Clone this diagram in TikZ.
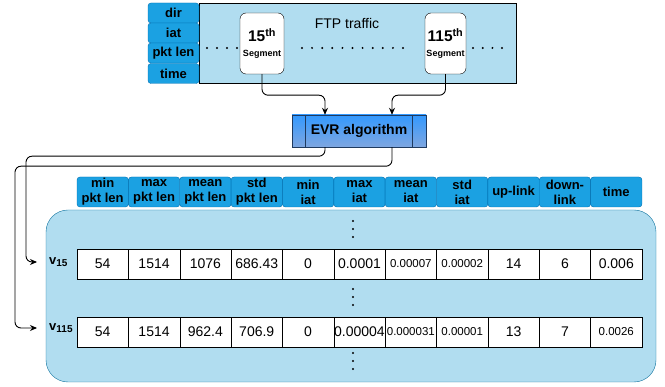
\documentclass[tikz,border=0pt]{standalone}
\usepackage{fontspec}
\setmainfont{Liberation Sans}
\usetikzlibrary{arrows.meta}

\definecolor{paleblue}{HTML}{B1DDF0}
\definecolor{paleline}{HTML}{10739E}
\definecolor{hdrblue}{HTML}{1BA1E2}
\definecolor{hdrline}{HTML}{006EAF}
\definecolor{evrtop}{HTML}{3399FF}
\definecolor{evrbot}{HTML}{7EA6E0}
\definecolor{evrline}{HTML}{1F3A5F}

\newcommand{\fsz}[1]{\fontsize{#1}{#1}\selectfont}
\newcommand{\sm}[1]{{\fontsize{11.5}{12}\selectfont #1}}
\newcommand{\vsub}[1]{{\fsz{13}v}\raisebox{-2.5pt}{\fsz{10}#1}}

\begin{document}
\begin{tikzpicture}[x=1pt, y=-1pt,
  field/.style = {draw=hdrline, fill=hdrblue, rounded corners=3pt,
    minimum width=51pt, minimum height=20pt, inner sep=0pt,
    align=center, font=\fontsize{13}{15}\selectfont\bfseries},
  hdr/.style = {field, minimum width=51.36pt, minimum height=30pt},
  cell/.style = {draw, fill=white, minimum width=51.36pt,
    minimum height=30pt, inner sep=0pt, font=\fsz{14}},
  segbox/.style = {draw, fill=white, rounded corners=6pt,
    minimum height=61pt, inner sep=0pt, align=center},
  vlabel/.style = {anchor=west, inner sep=0pt, font=\bfseries},
  conn/.style = {-{Stealth[length=7pt,width=6pt]}, line width=0.9pt,
    rounded corners=6pt}]
  \useasboundingbox (0,0) rectangle (665,387);

  % captured traffic
  \node[draw, fill=paleblue, minimum width=317pt, minimum height=80pt,
    inner sep=0pt] (ftp) at (357.5,43) {};
  \node[font=\fsz{14}] (ftptxt) at (347,23) {FTP traffic};
  \node[field] (dir) at (173.5,13) {dir};
  \node[field] (iat) at (173.5,33) {iat};
  \node[field] (len) at (173.5,53) {pkt len};
  \node[field] (time) at (173.5,73.5) {time};

  \node[segbox, minimum width=44pt] (seg15) at (262,43.5)
    {{\fsz{15.5}\bfseries 15\textsuperscript{th}}\\[3pt]{\fsz{9}\bfseries Segment}};
  \node[segbox, minimum width=41pt] (seg115) at (445.5,43.5)
    {{\fsz{15.5}\bfseries 115\textsuperscript{th}}\\[3pt]{\fsz{9}\bfseries Segment}};

  % dots between segments
  \foreach \x in {207,217,227,237} \fill (\x,48) circle (1.1pt);
  \foreach \i in {0,...,10} \fill ({302+\i*10.1},48) circle (1.1pt);
  \foreach \x in {473,482.7,492.4,502} \fill (\x,48) circle (1.1pt);

  % EVR
  \node[draw=evrline, top color=evrtop, bottom color=evrbot,
    minimum width=134pt, minimum height=32pt, font=\fsz{14}\bfseries]
    (evr) at (359,131) {EVR algorithm};
  \draw[evrline] ([xshift=13pt]evr.north west) -- ([xshift=13pt]evr.south west);
  \draw[evrline] ([xshift=-14pt]evr.north east) -- ([xshift=-14pt]evr.south east);

  \draw[conn] (seg15.south) -- ++(0,21) -| ([xshift=-34pt]evr.north);
  \draw[conn] (seg115.south) -- ++(0,21) -| ([xshift=33pt]evr.north);

  % feature vectors
  \draw[draw=paleline, fill=paleblue, rounded corners=22pt]
    (46,210) rectangle (656,382);

  \foreach \t [count=\i] in {{min\\pkt len},{max\\pkt len},{mean\\pkt len},
      {std\\pkt len},{min\\iat},{max\\iat},{mean\\iat},{std\\iat},
      {up-link},{down-\\link},{time}}
    \node[hdr] (h\i) at ({77+(\i-0.5)*51.36},192) {\t};

  \foreach \v [count=\i] in {54,1514,1076,686.43,0,0.0001,\sm{0.00007},
      \sm{0.00002},14,6,0.006}
    \node[cell] (a\i) at ({77+(\i-0.5)*51.36},264) {\v};
  \foreach \v [count=\i] in {54,1514,962.4,706.9,0,0.00004,\sm{0.000031},
      \sm{0.00001},13,7,\sm{0.0026}}
    \node[cell] (b\i) at ({77+(\i-0.5)*51.36},332) {\v};

  \node[vlabel] (v1) at (49,262) {\vsub{15}};
  \node[vlabel] (v2) at (49,328) {\vsub{115}};

  \foreach \y in {221,229,237,289,297,305,353,361,369}
    \fill (353,\y) circle (1.1pt);

  \draw[conn, shorten >=12pt] ([xshift=-34pt]evr.south) -- ++(0,9)
    -| ([xshift=-23pt]v1.west) -- (v1.west);
  \draw[conn, shorten >=12pt] ([xshift=33pt]evr.south) -- ++(0,19)
    -| ([xshift=-34pt]v2.west) -- (v2.west);
\end{tikzpicture}
\end{document}
